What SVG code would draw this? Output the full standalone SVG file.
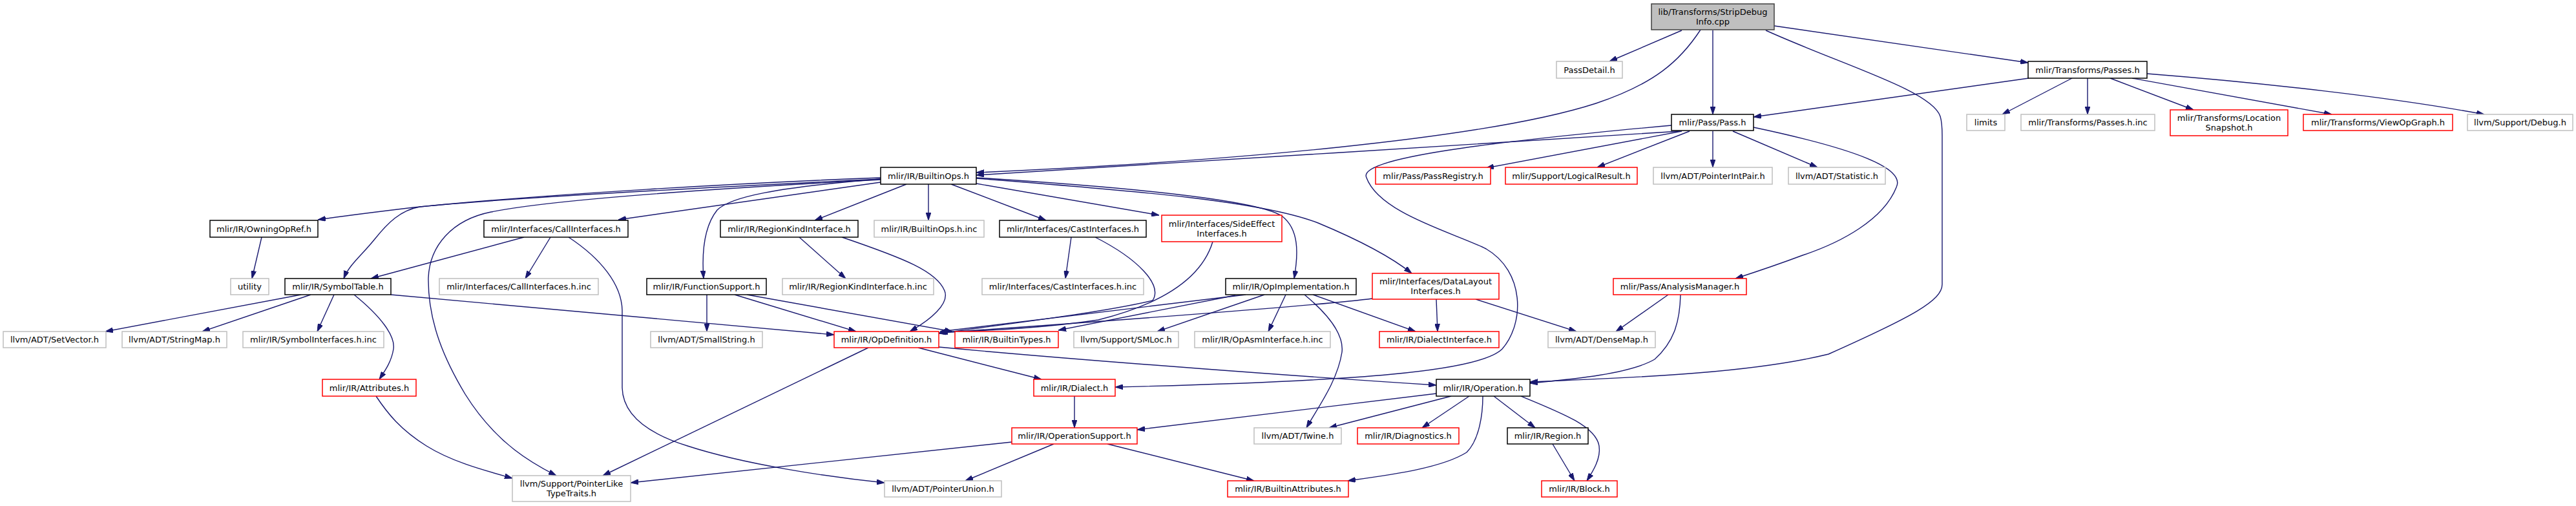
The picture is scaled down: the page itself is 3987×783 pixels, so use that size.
<svg xmlns="http://www.w3.org/2000/svg" width="3987" height="783" viewBox="0 0 3987 783">
<style>
rect{fill:#fff;stroke-width:1.5}
.k{stroke:#000}
.g{stroke:#bfbfbf}
.r{stroke:#f00}
.rt{fill:#bfbfbf;stroke:#404040}
text{font-family:"DejaVu Sans","Liberation Sans",sans-serif;font-size:13px;text-anchor:middle;fill:#000}
#edges path{fill:none;stroke:#191970;stroke-width:1.4;marker-end:url(#a)}
</style>
<defs>
<marker id="a" viewBox="0 0 10 10" refX="10" refY="5" markerWidth="12" markerHeight="8" markerUnits="userSpaceOnUse" orient="auto" preserveAspectRatio="none"><path d="M0,0 L10,5 L0,10 z" fill="#191970" stroke="#191970"/></marker>
</defs>
<rect x="0" y="0" width="3987" height="783" style="fill:#fff;stroke:none"/>
<g id="edges">
<path d="M2603,47 L2491,95"/>
<path d="M2651,47 L2651,177"/>
<path d="M2632,46 C2600,95 2560,130 2470,160 C2300,215 1900,250 1511,267"/>
<path d="M2746,40 L3139,97"/>
<path d="M2733,47 C2850,100 2990,140 3003,180 C3006,190 3006,200 3006,210 L3006,440 C3006,465 2960,490 2830,548 C2700,580 2500,585 2368,591"/>
<path d="M3140,121 L2714,181"/>
<path d="M3207,121 L3099,177"/>
<path d="M3231,121 L3231,177"/>
<path d="M3266,121 L3395,170"/>
<path d="M3300,121 L3609,177"/>
<path d="M3323,114 C3500,128 3700,150 3845,177"/>
<path d="M2600,203 C2300,225 1800,250 1511,271"/>
<path d="M2603,203 L2300,260"/>
<path d="M2615,203 L2472,259"/>
<path d="M2651,203 L2651,259"/>
<path d="M2682,203 L2813,259"/>
<path d="M2714,197 C2870,230 2950,260 2935,290 C2915,340 2850,375 2790,395 C2750,410 2720,420 2686,431"/>
<path d="M2587,194 C2300,220 2100,245 2115,275 C2135,330 2250,360 2300,385 C2360,420 2360,500 2325,540 C2290,575 2100,590 1726,599"/>
<path d="M1363,275 C1150,283 850,300 640,321 C590,327 540,333 492,340"/>
<path d="M1363,277 C1100,290 800,305 650,320 C620,325 600,345 580,370 C560,395 540,410 532,431"/>
<path d="M1363,278 C1100,292 850,310 760,328 C700,340 665,380 663,430 C662,500 690,560 720,610 C770,690 830,720 861,736"/>
<path d="M1363,282 L957,340"/>
<path d="M1363,277 C1200,290 1130,305 1110,325 C1090,350 1086,390 1089,431"/>
<path d="M1403,285 L1261,341"/>
<path d="M1437,285 L1437,341"/>
<path d="M1472,285 L1619,341"/>
<path d="M1511,284 L1794,333"/>
<path d="M1511,275 C1750,290 1950,310 1985,335 C2010,355 2010,390 2003,431"/>
<path d="M1511,276 C1750,295 1950,310 2040,345 C2100,370 2150,395 2185,423"/>
<path d="M405,367 L390,431"/>
<path d="M811,367 L574,431"/>
<path d="M852,367 L813,431"/>
<path d="M880,367 C930,400 962,440 963,480 L963,600 C964,640 1000,670 1064,690 C1150,718 1280,738 1369,747"/>
<path d="M466,456 L163,513"/>
<path d="M481,456 L313,513"/>
<path d="M517,456 L491,513"/>
<path d="M548,456 C590,490 612,520 609,540 C606,560 595,575 587,587"/>
<path d="M605,456 L1291,518"/>
<path d="M582,613 C600,640 620,665 660,690 C700,715 750,728 793,740"/>
<path d="M1094,456 L1094,513"/>
<path d="M1137,456 L1325,513"/>
<path d="M1156,456 L1474,513"/>
<path d="M1237,367 L1309,431"/>
<path d="M1303,367 C1400,400 1450,420 1462,450 C1470,470 1440,495 1408,513"/>
<path d="M1658,367 L1649,431"/>
<path d="M1695,367 C1760,400 1800,440 1784,465 C1700,485 1530,505 1453,516"/>
<path d="M1877,374 C1860,430 1800,470 1700,495 C1600,510 1500,512 1453,515"/>
<path d="M1928,456 L1455,513"/>
<path d="M1912,457 L1638,511"/>
<path d="M1957,456 L1791,513"/>
<path d="M1990,456 L1963,513"/>
<path d="M2032,456 L2191,513"/>
<path d="M2019,456 C2060,490 2080,520 2077,545 C2070,590 2040,630 2022,662"/>
<path d="M2124,462 C2050,472 1700,498 1455,515"/>
<path d="M2223,463 L2225,513"/>
<path d="M2284,463 L2440,513"/>
<path d="M2582,456 L2501,513"/>
<path d="M2601,456 C2600,500 2590,530 2561,556 C2520,580 2420,588 2368,593"/>
<path d="M1421,538 L1612,587"/>
<path d="M1453,537 C1700,560 2050,585 2223,596"/>
<path d="M1344,538 L933,736"/>
<path d="M1663,613 L1663,662"/>
<path d="M1566,684 L976,747"/>
<path d="M1631,687 L1494,744"/>
<path d="M1714,687 L1941,744"/>
<path d="M2223,609 L1760,665"/>
<path d="M2246,613 L2057,662"/>
<path d="M2274,613 L2201,662"/>
<path d="M2312,613 L2376,662"/>
<path d="M2354,613 C2420,640 2470,660 2475,690 C2478,710 2465,730 2456,744"/>
<path d="M2295,613 C2295,640 2290,680 2270,700 C2230,725 2150,735 2086,744"/>
<path d="M2403,687 L2437,744"/>
</g>
<g id="n_root"><rect class="rt" x="2556" y="6" width="190" height="40"/><text x="2651" y="23">lib/Transforms/StripDebug</text><text x="2651" y="38">Info.cpp</text></g>
<g id="n_passdetail"><rect class="g" x="2409" y="95" width="102" height="26"/><text x="2460" y="112.5">PassDetail.h</text></g>
<g id="n_pass"><rect class="k" x="2587" y="177" width="127" height="25"/><text x="2650.5" y="194">mlir/Pass/Pass.h</text></g>
<g id="n_passes"><rect class="k" x="3139" y="95" width="184" height="26"/><text x="3231" y="112.5">mlir/Transforms/Passes.h</text></g>
<g id="n_builtinops"><rect class="k" x="1363" y="259" width="148" height="26"/><text x="1437" y="276.5">mlir/IR/BuiltinOps.h</text></g>
<g id="n_passregistry"><rect class="r" x="2129" y="259" width="178" height="26"/><text x="2218" y="276.5">mlir/Pass/PassRegistry.h</text></g>
<g id="n_logicalresult"><rect class="r" x="2330" y="259" width="204" height="26"/><text x="2432" y="276.5">mlir/Support/LogicalResult.h</text></g>
<g id="n_pointerintpair"><rect class="g" x="2559" y="259" width="184" height="26"/><text x="2651" y="276.5">llvm/ADT/PointerIntPair.h</text></g>
<g id="n_statistic"><rect class="g" x="2768" y="259" width="150" height="26"/><text x="2843" y="276.5">llvm/ADT/Statistic.h</text></g>
<g id="n_limits"><rect class="g" x="3044" y="177" width="59" height="25"/><text x="3073.5" y="194">limits</text></g>
<g id="n_passesinc"><rect class="g" x="3128" y="177" width="207" height="25"/><text x="3231.5" y="194">mlir/Transforms/Passes.h.inc</text></g>
<g id="n_locsnap"><rect class="r" x="3359" y="170" width="182" height="40"/><text x="3450" y="187">mlir/Transforms/Location</text><text x="3450" y="202">Snapshot.h</text></g>
<g id="n_viewopgraph"><rect class="r" x="3565" y="177" width="231" height="25"/><text x="3680.5" y="194">mlir/Transforms/ViewOpGraph.h</text></g>
<g id="n_debug"><rect class="g" x="3819" y="177" width="163" height="25"/><text x="3900.5" y="194">llvm/Support/Debug.h</text></g>
<g id="n_owningopref"><rect class="k" x="325" y="341" width="167" height="26"/><text x="408.5" y="358.5">mlir/IR/OwningOpRef.h</text></g>
<g id="n_callif"><rect class="k" x="749" y="341" width="223" height="26"/><text x="860.5" y="358.5">mlir/Interfaces/CallInterfaces.h</text></g>
<g id="n_regionkind"><rect class="k" x="1115" y="341" width="213" height="26"/><text x="1221.5" y="358.5">mlir/IR/RegionKindInterface.h</text></g>
<g id="n_builtinopsinc"><rect class="g" x="1353" y="341" width="170" height="26"/><text x="1438" y="358.5">mlir/IR/BuiltinOps.h.inc</text></g>
<g id="n_castif"><rect class="k" x="1547" y="341" width="227" height="26"/><text x="1660.5" y="358.5">mlir/Interfaces/CastInterfaces.h</text></g>
<g id="n_sideeffect"><rect class="r" x="1798" y="333" width="186" height="41"/><text x="1891" y="350.5">mlir/Interfaces/SideEffect</text><text x="1891" y="365.5">Interfaces.h</text></g>
<g id="n_utility"><rect class="g" x="357" y="431" width="59" height="25"/><text x="386.5" y="448">utility</text></g>
<g id="n_symboltable"><rect class="k" x="441" y="431" width="164" height="25"/><text x="523" y="448">mlir/IR/SymbolTable.h</text></g>
<g id="n_callifinc"><rect class="g" x="680" y="431" width="246" height="25"/><text x="803" y="448">mlir/Interfaces/CallInterfaces.h.inc</text></g>
<g id="n_funcsupport"><rect class="k" x="1001" y="431" width="185" height="25"/><text x="1093.5" y="448">mlir/IR/FunctionSupport.h</text></g>
<g id="n_regionkindinc"><rect class="g" x="1211" y="431" width="234" height="25"/><text x="1328" y="448">mlir/IR/RegionKindInterface.h.inc</text></g>
<g id="n_castifinc"><rect class="g" x="1520" y="431" width="250" height="25"/><text x="1645" y="448">mlir/Interfaces/CastInterfaces.h.inc</text></g>
<g id="n_opimpl"><rect class="k" x="1897" y="431" width="202" height="25"/><text x="1998" y="448">mlir/IR/OpImplementation.h</text></g>
<g id="n_datalayout"><rect class="r" x="2124" y="423" width="196" height="40"/><text x="2222" y="440">mlir/Interfaces/DataLayout</text><text x="2222" y="455">Interfaces.h</text></g>
<g id="n_analysis"><rect class="r" x="2497" y="431" width="206" height="25"/><text x="2600" y="448">mlir/Pass/AnalysisManager.h</text></g>
<g id="n_setvector"><rect class="g" x="5" y="513" width="159" height="25"/><text x="84.5" y="530">llvm/ADT/SetVector.h</text></g>
<g id="n_stringmap"><rect class="g" x="189" y="513" width="162" height="25"/><text x="270" y="530">llvm/ADT/StringMap.h</text></g>
<g id="n_symifinc"><rect class="g" x="376" y="513" width="218" height="25"/><text x="485" y="530">mlir/IR/SymbolInterfaces.h.inc</text></g>
<g id="n_smallstring"><rect class="g" x="1007" y="513" width="173" height="25"/><text x="1093.5" y="530">llvm/ADT/SmallString.h</text></g>
<g id="n_opdef"><rect class="r" x="1291" y="513" width="162" height="25"/><text x="1372" y="530">mlir/IR/OpDefinition.h</text></g>
<g id="n_builtintypes"><rect class="r" x="1478" y="513" width="160" height="25"/><text x="1558" y="530">mlir/IR/BuiltinTypes.h</text></g>
<g id="n_smloc"><rect class="g" x="1662" y="513" width="162" height="25"/><text x="1743" y="530">llvm/Support/SMLoc.h</text></g>
<g id="n_opasminc"><rect class="g" x="1849" y="513" width="210" height="25"/><text x="1954" y="530">mlir/IR/OpAsmInterface.h.inc</text></g>
<g id="n_dialectif"><rect class="r" x="2135" y="513" width="185" height="25"/><text x="2227.5" y="530">mlir/IR/DialectInterface.h</text></g>
<g id="n_densemap"><rect class="g" x="2396" y="513" width="166" height="25"/><text x="2479" y="530">llvm/ADT/DenseMap.h</text></g>
<g id="n_attributes"><rect class="r" x="499" y="587" width="145" height="26"/><text x="571.5" y="604.5">mlir/IR/Attributes.h</text></g>
<g id="n_dialect"><rect class="r" x="1600" y="587" width="126" height="26"/><text x="1663" y="604.5">mlir/IR/Dialect.h</text></g>
<g id="n_operation"><rect class="k" x="2223" y="587" width="145" height="26"/><text x="2295.5" y="604.5">mlir/IR/Operation.h</text></g>
<g id="n_opsupport"><rect class="r" x="1566" y="662" width="194" height="25"/><text x="1663" y="679">mlir/IR/OperationSupport.h</text></g>
<g id="n_twine"><rect class="g" x="1941" y="662" width="135" height="25"/><text x="2008.5" y="679">llvm/ADT/Twine.h</text></g>
<g id="n_diagnostics"><rect class="r" x="2101" y="662" width="157" height="25"/><text x="2179.5" y="679">mlir/IR/Diagnostics.h</text></g>
<g id="n_region"><rect class="k" x="2333" y="662" width="125" height="25"/><text x="2395.5" y="679">mlir/IR/Region.h</text></g>
<g id="n_pointerlike"><rect class="g" x="793" y="736" width="183" height="40"/><text x="884.5" y="753">llvm/Support/PointerLike</text><text x="884.5" y="768">TypeTraits.h</text></g>
<g id="n_pointerunion"><rect class="g" x="1369" y="744" width="181" height="25"/><text x="1459.5" y="761">llvm/ADT/PointerUnion.h</text></g>
<g id="n_builtinattr"><rect class="r" x="1900" y="744" width="187" height="25"/><text x="1993.5" y="761">mlir/IR/BuiltinAttributes.h</text></g>
<g id="n_block"><rect class="r" x="2386" y="744" width="117" height="25"/><text x="2444.5" y="761">mlir/IR/Block.h</text></g>
</svg>
